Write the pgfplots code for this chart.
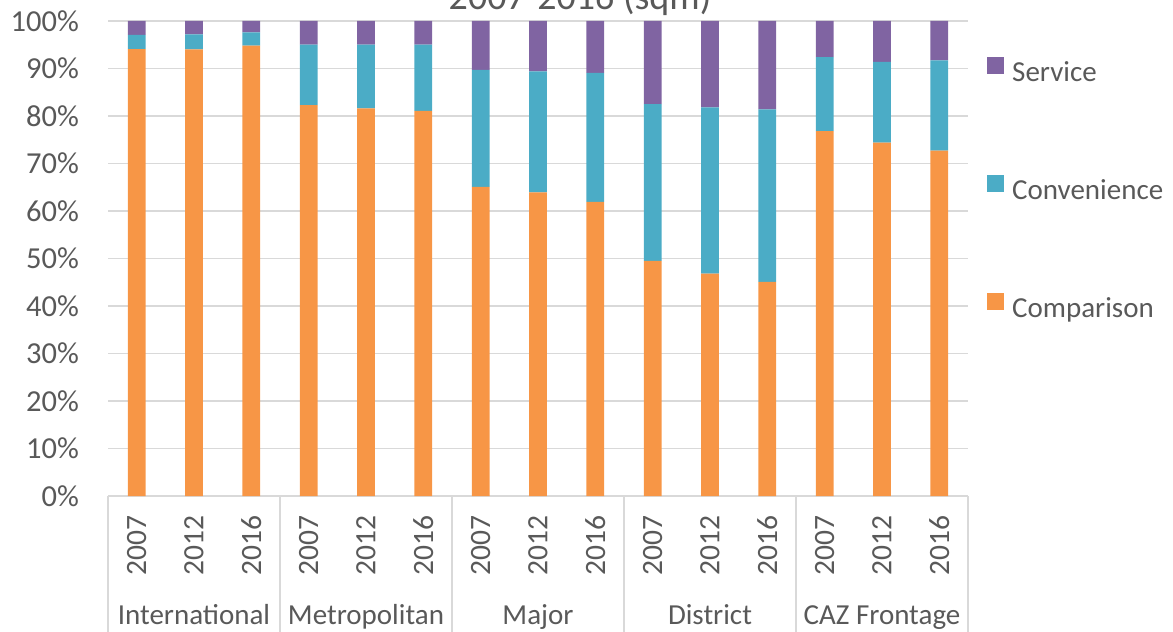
\documentclass[border=0pt]{standalone}
\usepackage{pgfplots}
\pgfplotsset{compat=1.18}
\usepackage{pgfplotstable}
\usepackage{fontspec}
\setmainfont{Carlito}
\definecolor{cComp}{HTML}{F79646}
\definecolor{cConv}{HTML}{4BACC6}
\definecolor{cServ}{HTML}{8064A2}
\definecolor{cGrid}{HTML}{D9D9D9}
\definecolor{cText}{HTML}{595959}
\pgfplotstableread{
x comp conv serv
0 94.1 3.0 2.9
1 94.0 3.2 2.8
2 94.8 2.8 2.4
3 82.3 12.7 5.0
4 81.6 13.4 5.0
5 81.1 13.9 5.0
6 65.1 24.6 10.3
7 63.9 25.5 10.6
8 61.9 27.2 10.9
9 49.5 33.0 17.5
10 46.8 35.0 18.2
11 45.1 36.3 18.6
12 76.8 15.6 7.6
13 74.4 17.0 8.6
14 72.7 19.0 8.3
}\datatable
\begin{document}
\begin{tikzpicture}
\fontsize{29bp}{34bp}\selectfont
\begin{axis}[
  at={(108bp,136bp)}, anchor=south west,
  scale only axis, width=860bp, height=475bp,
  xmin=-0.5, xmax=14.5, ymin=0, ymax=100,
  ybar stacked, bar width=0.31,
  clip=false,
  axis x line*=bottom, axis y line*=left,
  x axis line style={draw=cGrid, line width=1.5bp, -},
  y axis line style={draw=none, -},
  ymajorgrids, grid style={draw=cGrid, line width=1.5bp},
  ytick={0,10,...,100},
  yticklabel={\pgfmathprintnumber{\tick}\%},
  /pgf/number format/assume math mode=true,
  yticklabel style={inner sep=0pt, anchor=east, text=cText, font=\fontsize{30.5bp}{36bp}\selectfont},
  yticklabel shift=29bp,
  xtick=data,
  xticklabels={2007,2012,2016,2007,2012,2016,2007,2012,2016,2007,2012,2016,2007,2012,2016},
  xticklabel style={rotate=90, anchor=east, inner sep=0pt, text=cText, font=\fontsize{29.5bp}{34bp}\selectfont},
  xticklabel shift=19bp,
  major tick length=0pt,
  reverse legend,
  legend cell align=left,
  legend style={at={(1.0221,0.924)}, anchor=north west, draw=none, fill=none, inner sep=0pt,
    row sep=88bp, font=\fontsize{29bp}{34bp}\selectfont, text=cText,
    nodes={inner sep=0pt, text height=20bp, text depth=6bp},
    /tikz/every odd column/.append style={column sep=8bp}},
  legend image code/.code={\fill[#1] (0bp,0bp) rectangle (17bp,17bp);},
]
\addplot[fill=cComp, draw=none] table[x=x, y=comp] {\datatable};
\addplot[fill=cConv, draw=none] table[x=x, y=conv] {\datatable};
\addplot[fill=cServ, draw=none] table[x=x, y=serv] {\datatable};
\legend{Comparison, Convenience, Service}
\pgfplotsinvokeforeach{-0.5,2.5,5.5,8.5,11.5,14.5}{
  \draw[cGrid, line width=1.5bp] (axis cs:#1,0) -- ++(0pt,-136bp);
}
\path (axis cs:1,0) ++(0pt,-128bp) node[anchor=base, text=cText] {International};
\path (axis cs:4,0) ++(0pt,-128bp) node[anchor=base, text=cText] {Metropolitan};
\path (axis cs:7,0) ++(0pt,-128bp) node[anchor=base, text=cText] {Major};
\path (axis cs:10,0) ++(0pt,-128bp) node[anchor=base, text=cText] {District};
\path (axis cs:13,0) ++(0pt,-128bp) node[anchor=base, text=cText] {CAZ Frontage};
\end{axis}
\node[anchor=base, text=cText, font=\fontsize{38bp}{44bp}\selectfont] at (580bp,622bp) {2007-2016 (sqm)};
\pgfresetboundingbox
\useasboundingbox (0,0) rectangle (1173bp,632bp);
\end{tikzpicture}
\end{document}
